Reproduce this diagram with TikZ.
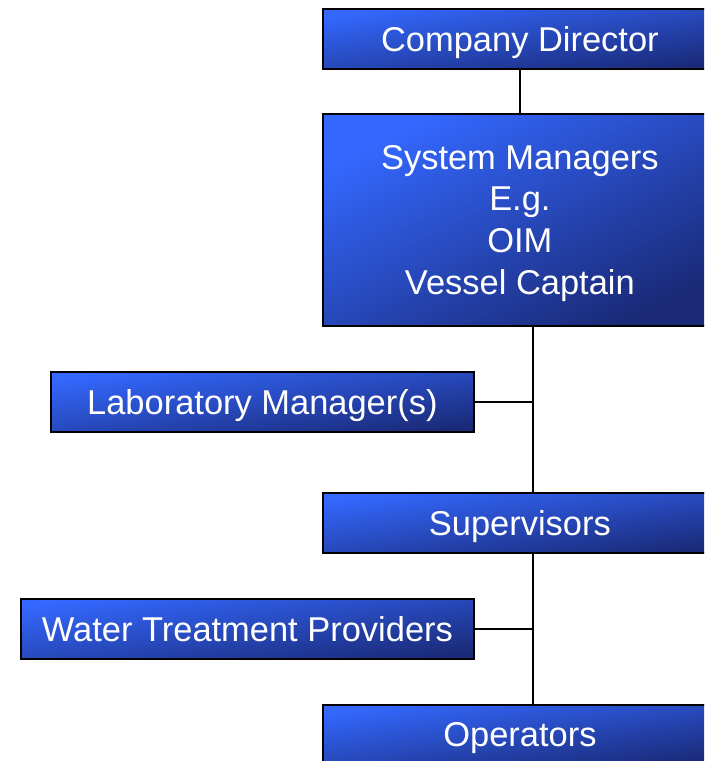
\documentclass[tikz,border=0pt]{standalone}
\usepackage{fontspec}
\setmainfont{Liberation Sans}
\usepackage{tikz}
\usetikzlibrary{positioning,calc}
\definecolor{boxlight}{RGB}{52,104,255}
\definecolor{boxdark}{RGB}{26,42,120}
\tikzset{
orgbox/.style = {draw=black, line width=1.2pt, rectangle, align=center, anchor=north west,
  top color=boxlight, bottom color=boxdark, shading angle=8,
  text=white, font=\fontsize{24.5}{29.8}\selectfont, inner sep=0pt, text depth=0pt},
wide/.style = {orgbox, minimum width=9.85cm, minimum height=1.5cm},
link/.style = {draw=black, line width=1.1pt}
}
\begin{document}
\begin{tikzpicture}[x=0.025cm, y=-0.025cm]
    \useasboundingbox (0,0) rectangle (704,761);
    \clip (0,0) rectangle (704,761);

    \node [wide] (director) at (322,8) {Company Director};
    \node [wide, minimum height=5.3cm, shading angle=27] (sysman) at (322,113)
       {System Managers\\E.g.\\OIM\\Vessel Captain};
    \node [orgbox, minimum width=10.575cm, minimum height=1.5cm] (labman) at (50,371) {Laboratory Manager(s)};
    \node [wide] (super) at (322,492) {Supervisors};
    \node [orgbox, minimum width=11.325cm, minimum height=1.5cm] (water) at (20,598) {Water Treatment Providers};
    \node [wide] (oper) at (322,704) {Operators};

    \coordinate (trunk) at (533,0);

    \draw [link] (director) -- (sysman);
    \draw [link] (trunk |- sysman.south) -- (trunk |- super.north);
    \draw [link] (labman.east) -- (trunk |- labman.east);
    \draw [link] (trunk |- super.south) -- (trunk |- oper.north);
    \draw [link] (water.east) -- (trunk |- water.east);
\end{tikzpicture}
\end{document}
